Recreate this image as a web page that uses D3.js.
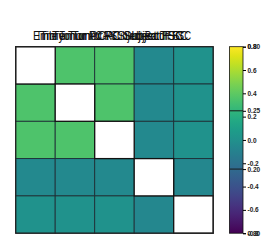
<!DOCTYPE html>
<html>
<head>
<meta charset="utf-8">
<script src="https://cdn.jsdelivr.net/npm/d3@7"></script>
<style>
  body { margin: 0; background: #fff; }
  svg { display: block; font-family: 'Liberation Sans', Arial, sans-serif; }
</style>
</head>
<body>
<div id="chart"></div>
<script>
// variables (rows / columns of the matrix)
const variables = ['V1', 'V2', 'V3', 'V4', 'V5'];

// correlation matrix, diagonal left empty
const corr = [
  [null, 0.35, 0.35, -0.05, 0.01],
  [0.35, null, 0.35, -0.05, 0.01],
  [0.35, 0.35, null, -0.05, 0.01],
  [-0.05, -0.05, -0.05, null, -0.06],
  [0.01, 0.01, 0.01, -0.06, null]
];

// overlapped header labels as they appear
const headerLabels = ['Embryo Tumor PC Subject FSC', 'Time Tumor PCA Subject Batch FSC', 'Tumor PCA Subject TSC', 'Time Tumor RC Subject FSC'];

// colour bar ticks
const cbTicks = [-0.8, -0.6, -0.4, -0.2, 0.0, 0.2, 0.4, 0.6, 0.8];
const cbExtraTicks = [0.8, 0.25, -0.25, -0.8];
const cbExtraLabels = ['0.80', '0.25', '0.20', '0.80'];
const cbLines = [0.25, -0.25];
const cbDomain = [-0.8, 0.8];

const width = 266, height = 242;
const margin = { top: 46.7, left: 15.7 };
const gridW = 197.5, gridH = 186.5;

const svg = d3.select('#chart')
    .append('svg')
    .attr('width', width)
    .attr('height', height);

const x = d3.scaleBand().domain(variables).range([margin.left, margin.left + gridW]);
const y = d3.scaleBand().domain(variables).range([margin.top, margin.top + gridH]);
const color = d3.scaleSequential(d3.interpolateViridis).domain(cbDomain);

const cells = [];
corr.forEach((row, i) => row.forEach((v, j) => cells.push({ r: variables[i], c: variables[j], v: v })));

// off-diagonal cells first
svg.append('g').selectAll('rect')
    .data(cells.filter(d => d.v !== null))
    .enter()
    .append('rect')
    .attr('x', d => x(d.c))
    .attr('y', d => y(d.r))
    .attr('width', x.bandwidth())
    .attr('height', y.bandwidth())
    .attr('fill', d => color(d.v))
    .attr('stroke', '#1e2f36')
    .attr('stroke-width', 0.9);

// diagonal cells
svg.append('g').selectAll('rect')
    .data(cells.filter(d => d.v === null))
    .enter()
    .append('rect')
    .attr('x', d => x(d.c))
    .attr('y', d => y(d.r))
    .attr('width', x.bandwidth())
    .attr('height', y.bandwidth())
    .attr('fill', '#fff')
    .attr('stroke', '#111')
    .attr('stroke-width', 1.3);

// outer border
svg.append('rect')
    .attr('x', margin.left)
    .attr('y', margin.top)
    .attr('width', gridW)
    .attr('height', gridH)
    .attr('fill', 'none')
    .attr('stroke', '#222')
    .attr('stroke-width', 1.2);

// header (overlapping labels)
svg.append('g').selectAll('text')
    .data(headerLabels)
    .enter()
    .append('text')
    .attr('x', (d, i) => [33, 36, 52, 40][i])
    .attr('y', 39.5)
    .attr('font-size', 12)
    .attr('fill', '#111')
    .attr('textLength', (d, i) => [150, 155, 132, 148][i])
    .attr('lengthAdjust', 'spacingAndGlyphs')
    .text(d => d);

// colour bar
const cbX = 229.5, cbW = 13.5;
const cbY = d3.scaleLinear().domain(cbDomain).range([margin.top + gridH, margin.top]);

const defs = svg.append('defs');
const grad = defs.append('linearGradient')
    .attr('id', 'cbgrad')
    .attr('x1', 0).attr('y1', 1).attr('x2', 0).attr('y2', 0);
d3.range(0, 1.001, 0.05).forEach(t => {
  grad.append('stop')
      .attr('offset', t)
      .attr('stop-color', d3.interpolateViridis(t));
});

svg.append('rect')
    .attr('x', cbX)
    .attr('y', cbY(cbDomain[1]))
    .attr('width', cbW)
    .attr('height', cbY(cbDomain[0]) - cbY(cbDomain[1]))
    .attr('fill', 'url(#cbgrad)')
    .attr('stroke', '#111')
    .attr('stroke-width', 0.8);

svg.append('g').selectAll('line')
    .data(cbLines)
    .enter()
    .append('line')
    .attr('x1', cbX)
    .attr('x2', cbX + cbW)
    .attr('y1', d => cbY(d))
    .attr('y2', d => cbY(d))
    .attr('stroke', '#1a1a1a')
    .attr('stroke-width', 1);

const axis = d3.axisRight(cbY)
    .tickValues(cbTicks)
    .tickSize(3)
    .tickFormat(d => d3.format('.1f')(d).replace('−', '-'));

const axG = svg.append('g')
    .attr('transform', 'translate(' + (cbX + cbW) + ',0)')
    .call(axis);
axG.select('.domain').remove();
axG.selectAll('text')
    .attr('font-size', 6.5)
    .attr('font-weight', 'bold')
    .attr('x', 4.5)
    .attr('fill', '#222');

const axExtra = d3.axisRight(cbY)
    .tickValues(cbExtraTicks)
    .tickSize(3)
    .tickFormat((d, i) => cbExtraLabels[i]);

const axG2 = svg.append('g')
    .attr('transform', 'translate(' + (cbX + cbW) + ',0)')
    .call(axExtra);
axG2.select('.domain').remove();
axG2.selectAll('text')
    .attr('font-size', 6.5)
    .attr('font-weight', 'bold')
    .attr('x', 4.5)
    .attr('fill', '#222');
</script>
</body>
</html>
